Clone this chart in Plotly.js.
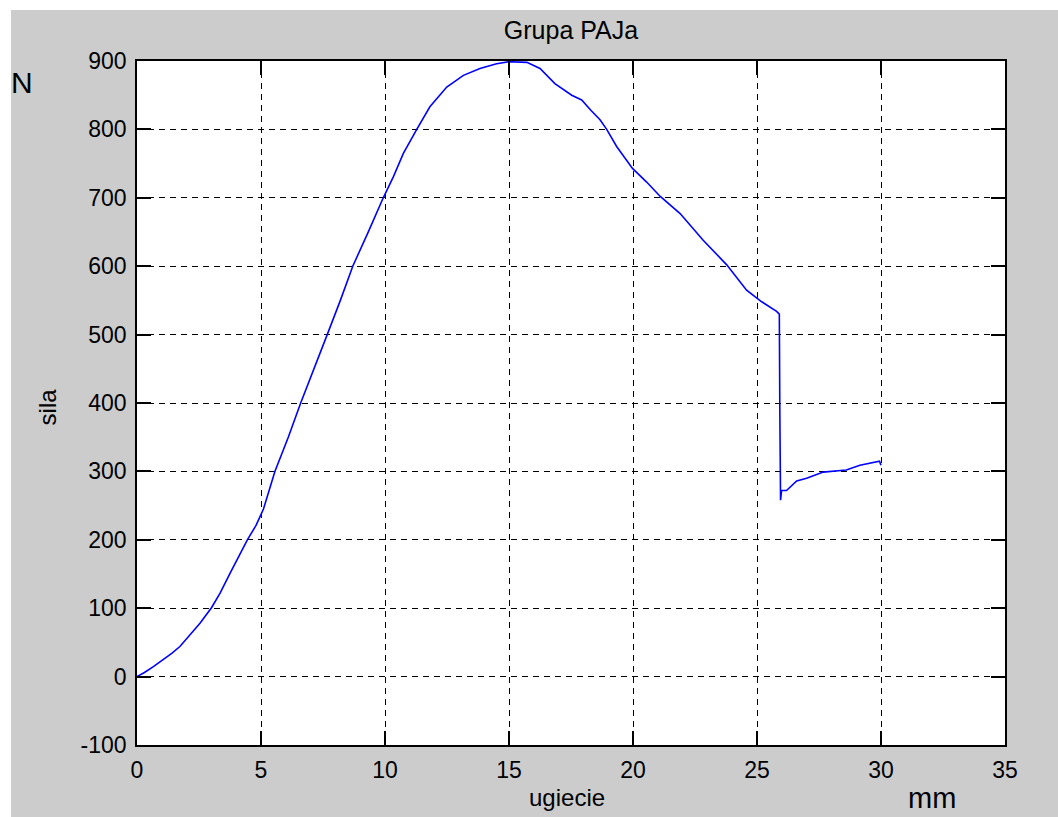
<!DOCTYPE html>
<html>
<head>
<meta charset="utf-8">
<script src="https://cdn.plot.ly/plotly-3.0.1.min.js"></script>
<style>
  html, body { margin: 0; padding: 0; background: #ffffff; }
  #chart { position: absolute; left: 11px; top: 10px; width: 1047px; height: 807px; }
</style>
</head>
<body>
<div id="chart"></div>
<script>
// deflection (mm)
const ugiecie = [0, 0.3, 0.66, 1.06, 1.4, 1.73, 2.1, 2.54, 3.01, 3.35, 3.75, 4.02, 4.45, 4.8, 5.1, 5.56,
  6.1, 6.6, 7.1, 7.67, 8.2, 8.7, 9.3, 9.93, 10.34, 10.74, 11.28, 11.81, 12.49, 13.16, 13.83, 14.5,
  15.0, 15.4, 15.72, 16.25, 16.85, 17.53, 17.93, 18.3, 18.67, 18.94, 19.34, 19.98, 20.55, 21.1,
  21.9, 22.83, 23.78, 24.58, 24.98, 25.19, 25.79, 25.9, 25.92, 25.95, 25.99, 26.19, 26.6, 27.0,
  27.67, 28.6, 29.15, 29.83, 29.94, 30.0];
// force (N)
const sila = [0, 6, 14.5, 25, 34, 44, 60, 78, 101, 122, 151, 170, 200, 221, 245, 300,
  350, 400, 448, 500, 550, 600, 648, 700, 731, 765, 800, 833, 862, 879, 889, 896,
  899, 899, 898, 889, 867, 850, 843, 828, 814, 800, 775, 743, 723, 702,
  677, 638, 602, 565, 553, 548, 534, 530, 390, 258, 272, 272, 286, 290,
  299, 302, 309, 314, 315, 309];

const xTicks = [0, 5, 10, 15, 20, 25, 30, 35];
const yTicks = [-100, 0, 100, 200, 300, 400, 500, 600, 700, 800, 900];

const titleText = 'Grupa PAJa';
const xLabel = 'ugiecie';
const yLabel = 'sila';
const yUnit = 'N';
const xUnit = 'mm';

const FONT = 'Arial, "Liberation Sans", sans-serif';

const trace = {
  x: ugiecie, y: sila, type: 'scatter', mode: 'lines',
  line: { color: '#0000ff', width: 1.6 },
  hoverinfo: 'x+y'
};

const axisCommon = {
  showline: true, linecolor: '#000000', linewidth: 1.5, mirror: 'ticks',
  ticks: 'inside', ticklen: 14, tickwidth: 1.5, tickcolor: '#000000',
  showgrid: true, gridcolor: '#000000', gridwidth: 1, griddash: '6px,5px',
  zeroline: false, tickfont: { family: FONT, size: 23, color: '#000000' },
  fixedrange: true
};

const layout = {
  width: 1047, height: 807,
  margin: { l: 126, r: 53, t: 51, b: 72 },
  paper_bgcolor: '#cccccc', plot_bgcolor: '#ffffff',
  showlegend: false,
  title: { text: titleText, font: { family: FONT, size: 25, color: '#000000' },
           x: 0.5, xref: 'paper', xanchor: 'center', y: 0.975, yref: 'container', yanchor: 'middle' },
  xaxis: Object.assign({}, axisCommon, { range: [0, 35], tickvals: xTicks, ticktext: xTicks.map(String), ticklabelstandoff: 4 }),
  yaxis: Object.assign({}, axisCommon, { range: [-100, 900], tickvals: yTicks, ticktext: yTicks.map(String), ticklabelstandoff: 4 }),
  annotations: [
    { text: yLabel, xref: 'paper', yref: 'paper', x: -0.1037, y: 0.495, textangle: -90,
      showarrow: false, xanchor: 'center', yanchor: 'middle', font: { family: FONT, size: 24, color: '#000000' } },
    { text: xLabel, xref: 'paper', yref: 'paper', x: 0.4954, y: -0.0765,
      showarrow: false, xanchor: 'center', yanchor: 'middle', font: { family: FONT, size: 24, color: '#000000' } },
    { text: yUnit, xref: 'paper', yref: 'paper', x: -0.1325, y: 0.969,
      showarrow: false, xanchor: 'center', yanchor: 'middle', font: { family: FONT, size: 30, color: '#000000' } },
    { text: xUnit, xref: 'paper', yref: 'paper', x: 0.916, y: -0.0775,
      showarrow: false, xanchor: 'center', yanchor: 'middle', font: { family: FONT, size: 29, color: '#000000' } }
  ]
};

Plotly.newPlot('chart', [trace], layout, { displayModeBar: false, staticPlot: false });
</script>
</body>
</html>
